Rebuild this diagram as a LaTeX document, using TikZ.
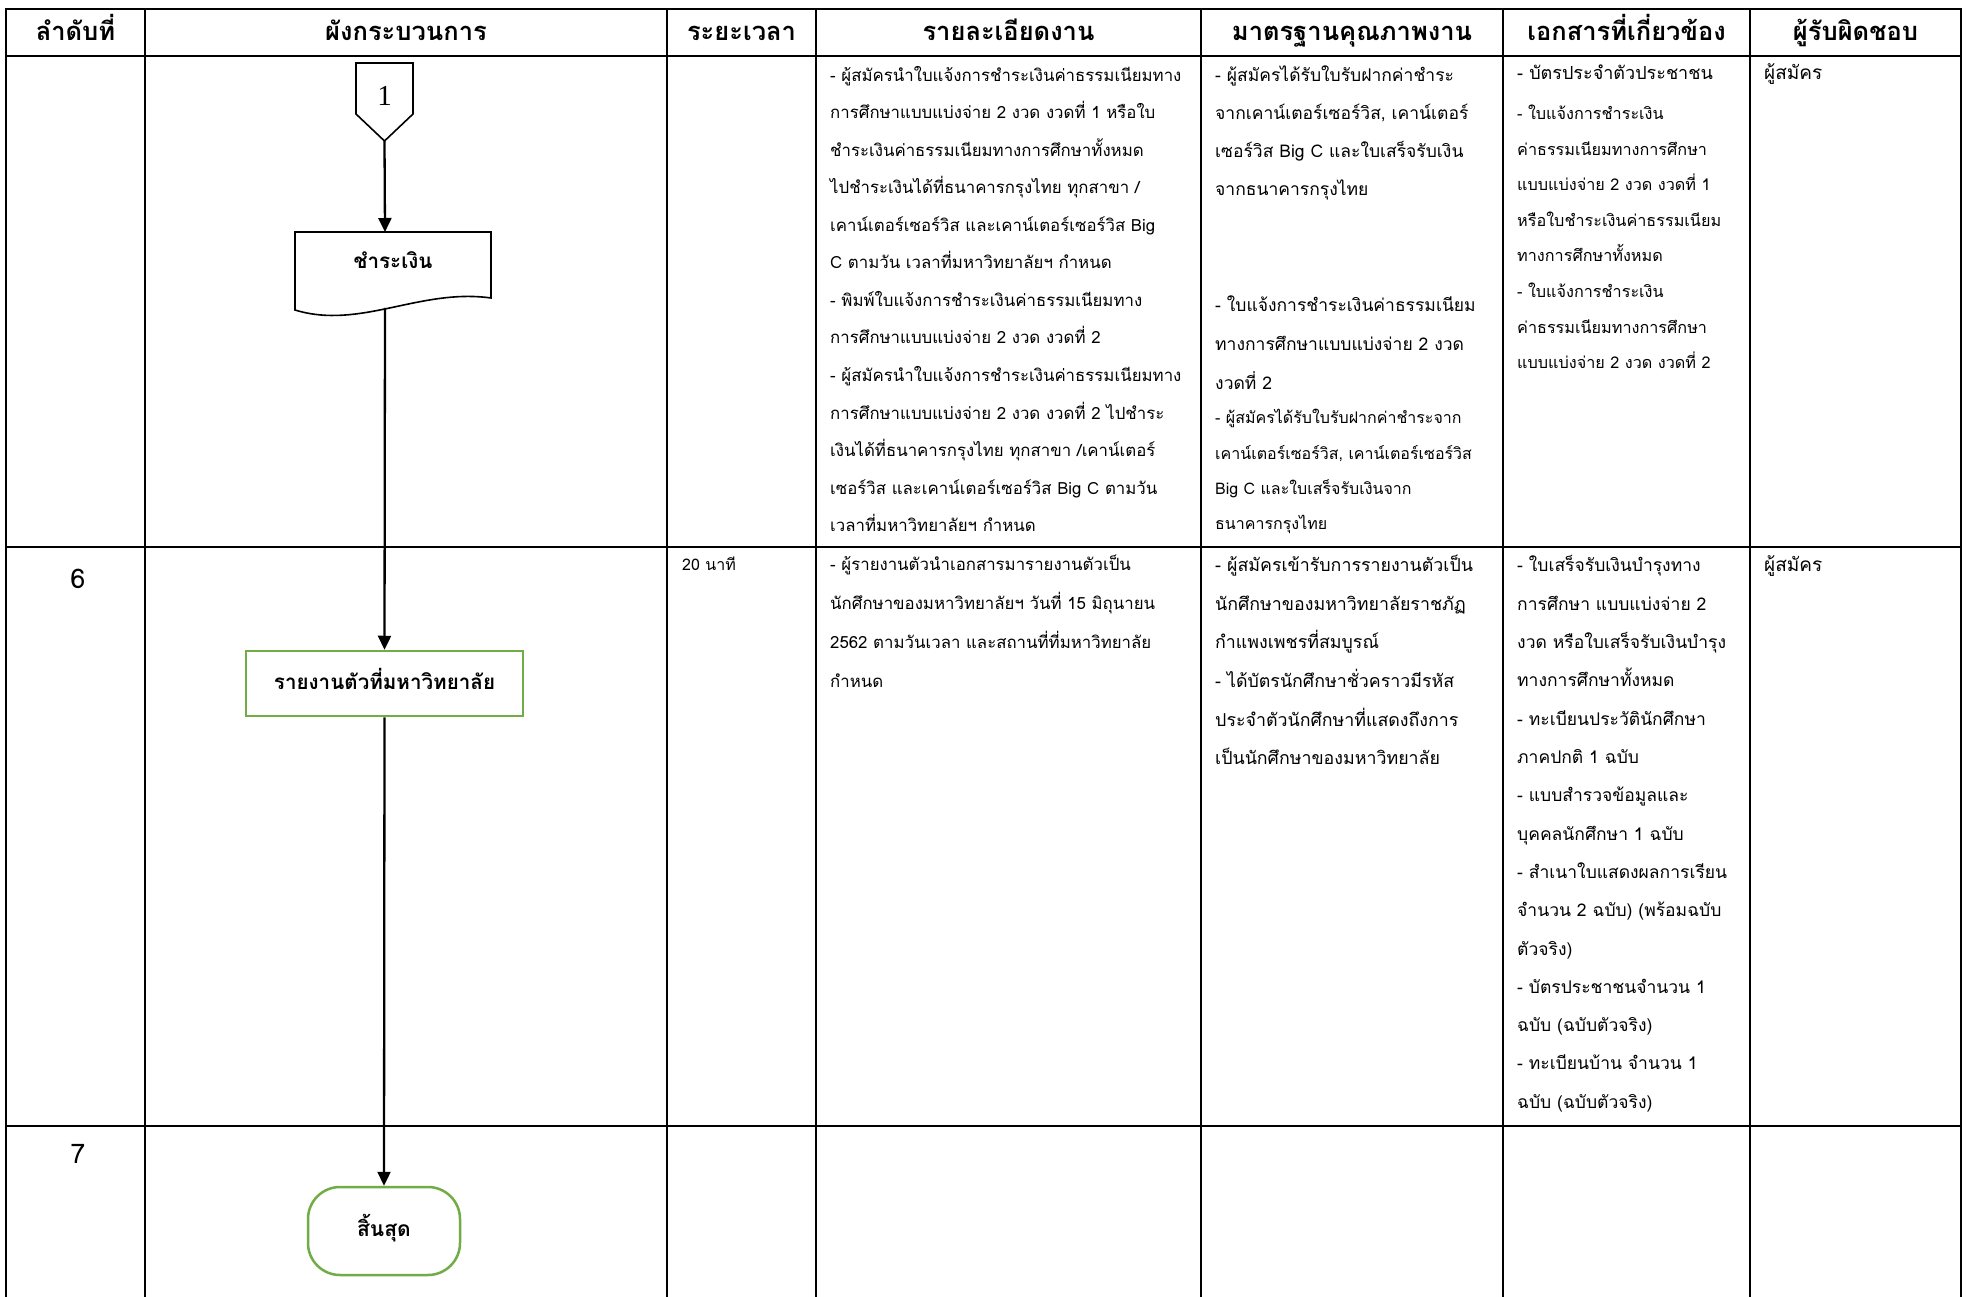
\documentclass[tikz,border=0pt]{standalone}
\usepackage{fontspec}
\setmainfont[Script=Thai]{Loma}
\newfontfamily\numfont{Liberation Serif}
\usetikzlibrary{arrows.meta}
\definecolor{boxgreen}{HTML}{70AD47}
\newcommand\tlines[6]{%
  \foreach \tx [count=\i from 0] in {#6} {%
    \node[txt, font=\fontsize{#5}{#5}\selectfont] (#1-\i) at (#2, #3+\i*#4) {\tx};}}
\begin{document}
\begin{tikzpicture}[x=1pt,y=-1pt,
  grid/.style={line width=2.5pt, line cap=rect},
  head/.style={anchor=base, inner sep=0pt, font=\fontsize{25.5}{25.5}\selectfont\bfseries},
  txt/.style={anchor=base west, inner sep=0pt},
  arr/.style={line width=2.3pt, -{Triangle[length=14pt,width=13pt]}},
  shp/.style={line width=1.6pt},
  gbox/.style={draw=boxgreen, line width=2.5pt, inner sep=0pt, text height=15pt, text depth=4pt,
     font=\fontsize{20.6}{20.6}\selectfont\bfseries},
]
\useasboundingbox (0,0) rectangle (1966,1297);
\fill[white] (0,0) rectangle (1966,1297);
% table grid
\foreach \yy in {9,56,547,1126} {\draw[grid] (6,\yy) -- (1961,\yy);}
\foreach \xx in {6,145,667,816,1201,1503,1750,1961} {\draw[grid] (\xx,9) -- (\xx,1297);}
% headers
\node[head] (h1) at (75.5,41) {ลำดับที่};
\node[head] (h2) at (406,41) {ผังกระบวนการ};
\node[head] (h3) at (741.5,41) {ระยะเวลา};
\node[head] (h4) at (1008.5,41) {รายละเอียดงาน};
\node[head] (h5) at (1352,41) {มาตรฐานคุณภาพงาน};
\node[head] (h6) at (1626.5,41) {เอกสารที่เกี่ยวข้อง};
\node[head] (h7) at (1855.5,41) {ผู้รับผิดชอบ};
% row numbers
\node[anchor=base, inner sep=0pt, font=\fontsize{27}{27}\selectfont] (n6) at (78,588) {6};
\node[anchor=base, inner sep=0pt, font=\fontsize{27}{27}\selectfont] (n7) at (78,1163) {7};
% flowchart
\draw[shp] (356,63) -- (413,63) -- (413,114) -- (384.5,141) -- (356,114) -- cycle;
\node[inner sep=0pt, font=\numfont\fontsize{29}{29}\selectfont] (c1) at (384.5,96) {1};
\coordinate (c1tip) at (384.5,141);
\draw[shp] (295,232) -- (491,232) -- (491,298) .. controls (420,288) and (360,330) .. (295,310) -- cycle;
\node[anchor=base, inner sep=0pt, font=\fontsize{20.6}{20.6}\selectfont\bfseries] (pay) at (393,269) {ชำระเงิน};
\coordinate (paytop) at (385,232);
\coordinate (paybot) at (385,308);
\node[gbox, minimum width=277pt, minimum height=65pt] (report) at (384.5,683.5) {รายงานตัวที่มหาวิทยาลัย};
\node[gbox, rounded corners=32pt, minimum width=152pt, minimum height=88pt, font=\fontsize{21}{21}\selectfont\bfseries] (endn) at (384,1231) {สิ้นสุด};
\draw[arr] (c1tip) -- (paytop);
\draw[arr] (paybot) -- (report.north);
\draw[arr] (report.south) -- (endn.north);
% row 1 texts
\tlines{d1}{830}{81.5}{37.5}{16.8}{- ผู้สมัครนำใบแจ้งการชำระเงินค่าธรรมเนียมทาง, การศึกษาแบบแบ่งจ่าย 2 งวด งวดที่ 1 หรือใบ, ชำระเงินค่าธรรมเนียมทางการศึกษาทั้งหมด, {ไปชำระเงินได้ที่ธนาคารกรุงไทย ทุกสาขา /}, เคาน์เตอร์เซอร์วิส และเคาน์เตอร์เซอร์วิส Big, C ตามวัน เวลาที่มหาวิทยาลัยฯ กำหนด, - พิมพ์ใบแจ้งการชำระเงินค่าธรรมเนียมทาง, การศึกษาแบบแบ่งจ่าย 2 งวด งวดที่ 2, - ผู้สมัครนำใบแจ้งการชำระเงินค่าธรรมเนียมทาง, การศึกษาแบบแบ่งจ่าย 2 งวด งวดที่ 2 ไปชำระ, {เงินได้ที่ธนาคารกรุงไทย ทุกสาขา /เคาน์เตอร์}, เซอร์วิส และเคาน์เตอร์เซอร์วิส Big C ตามวัน, เวลาที่มหาวิทยาลัยฯ กำหนด}
\tlines{sa}{1215}{81.5}{38}{17.5}{- ผู้สมัครได้รับใบรับฝากค่าชำระ, {จากเคาน์เตอร์เซอร์วิส, เคาน์เตอร์}, เซอร์วิส Big C และใบเสร็จรับเงิน, จากธนาคารกรุงไทย}
\tlines{sb}{1215}{312}{38.5}{17.5}{- ใบแจ้งการชำระเงินค่าธรรมเนียม, ทางการศึกษาแบบแบ่งจ่าย 2 งวด, งวดที่ 2}
\tlines{sc}{1215}{424}{35}{16}{- ผู้สมัครได้รับใบรับฝากค่าชำระจาก, {เคาน์เตอร์เซอร์วิส, เคาน์เตอร์เซอร์วิส}, Big C และใบเสร็จรับเงินจาก, ธนาคารกรุงไทย}
\tlines{da}{1517}{80}{0}{18}{- บัตรประจำตัวประชาชน}
\tlines{db}{1517}{119.5}{35.6}{16.2}{- ใบแจ้งการชำระเงิน, ค่าธรรมเนียมทางการศึกษา, แบบแบ่งจ่าย 2 งวด งวดที่ 1, หรือใบชำระเงินค่าธรรมเนียม, ทางการศึกษาทั้งหมด, - ใบแจ้งการชำระเงิน, ค่าธรรมเนียมทางการศึกษา, แบบแบ่งจ่าย 2 งวด งวดที่ 2}
\tlines{ra}{1764}{80}{0}{19}{ผู้สมัคร}
% row 2 texts
\tlines{t2}{682}{570}{0}{16}{20 นาที}
\tlines{d2}{830}{570.5}{38.9}{16.8}{- ผู้รายงานตัวนำเอกสารมารายงานตัวเป็น, นักศึกษาของมหาวิทยาลัยฯ วันที่ 15 มิถุนายน, 2562 ตามวันเวลา และสถานที่ที่มหาวิทยาลัย, กำหนด}
\tlines{s2}{1215}{571.7}{38.6}{17.8}{- ผู้สมัครเข้ารับการรายงานตัวเป็น, นักศึกษาของมหาวิทยาลัยราชภัฏ, กำแพงเพชรที่สมบูรณ์, - ได้บัตรนักศึกษาชั่วคราวมีรหัส, ประจำตัวนักศึกษาที่แสดงถึงการ, เป็นนักศึกษาของมหาวิทยาลัย}
\tlines{e2}{1517}{571.7}{38.33}{17.5}{- ใบเสร็จรับเงินบำรุงทาง, การศึกษา แบบแบ่งจ่าย 2, งวด หรือใบเสร็จรับเงินบำรุง, ทางการศึกษาทั้งหมด, - ทะเบียนประวัตินักศึกษา, ภาคปกติ 1 ฉบับ, - แบบสำรวจข้อมูลและ, บุคคลนักศึกษา 1 ฉบับ, - สำเนาใบแสดงผลการเรียน, {จำนวน 2 ฉบับ) (พร้อมฉบับ}, {ตัวจริง)}, - บัตรประชาชนจำนวน 1, {ฉบับ (ฉบับตัวจริง)}, - ทะเบียนบ้าน จำนวน 1, {ฉบับ (ฉบับตัวจริง)}}
\tlines{r2}{1764}{571.7}{0}{19}{ผู้สมัคร}
\end{tikzpicture}
\end{document}
